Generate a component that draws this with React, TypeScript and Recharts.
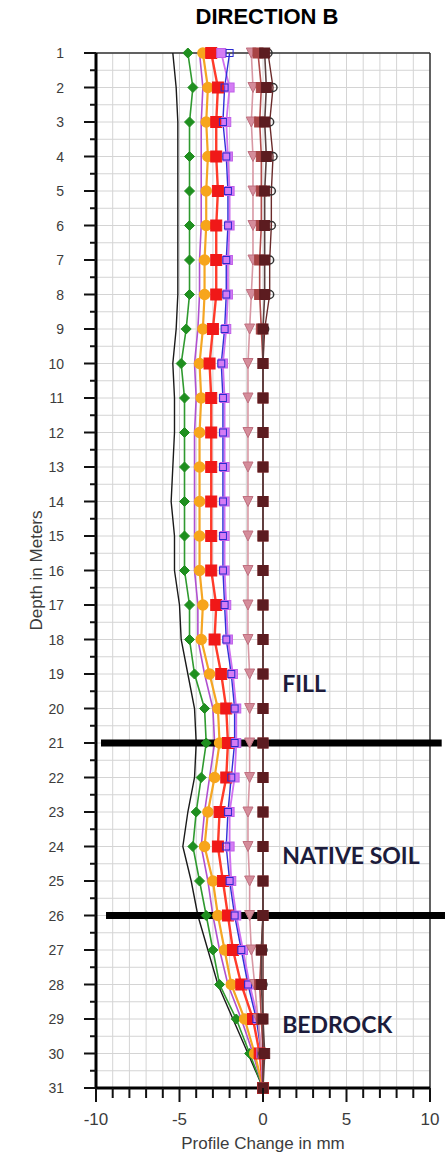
import React from 'react';
import { LineChart, Line, XAxis, YAxis, CartesianGrid, ReferenceLine, ReferenceDot } from 'recharts';

// depth below surface (m), one row per reading
const depths = [1, 2, 3, 4, 5, 6, 7, 8, 9, 10, 11, 12, 13, 14, 15, 16, 17, 18, 19, 20, 21, 22, 23, 24, 25, 26, 27, 28, 29, 30, 31];
const xTicks = [-10, -9, -8, -7, -6, -5, -4, -3, -2, -1, 0, 1, 2, 3, 4, 5, 6, 7, 8, 9, 10];
const xLabels = [-10, -5, 0, 5, 10];
// half-metre ticks for the grid, integers get a label
const yTicks = depths.flatMap((d) => (d < 31 ? [d, d + 0.5] : [d]));

// profile change (mm) per reading
const blackLine = [-5.4, -5.2, -5.1, -5.1, -5.1, -5.1, -5.1, -5.1, -5.2, -5.4, -5.3, -5.3, -5.4, -5.5, -5.3, -5.3, -5.0, -4.9, -4.5, -4.1, -4.0, -4.1, -4.5, -4.8, -4.3, -3.9, -3.3, -2.7, -1.8, -0.9, 0];
const greenDiamond = [-4.5, -4.2, -4.4, -4.4, -4.4, -4.4, -4.4, -4.4, -4.6, -4.9, -4.7, -4.7, -4.7, -4.7, -4.7, -4.7, -4.4, -4.4, -4.1, -3.5, -3.4, -3.7, -4.0, -4.2, -3.8, -3.4, -3.0, -2.6, -1.6, -0.8, 0];
const magentaLine = [-3.8, -3.6, -3.7, -3.7, -3.7, -3.7, -3.8, -3.8, -3.9, -4.1, -4.0, -4.1, -4.1, -4.1, -4.1, -4.1, -3.9, -3.9, -3.5, -3.0, -2.9, -3.2, -3.5, -3.7, -3.3, -3.0, -2.6, -2.1, -1.3, -0.6, 0];
const orangeDot = [-3.6, -3.3, -3.4, -3.3, -3.4, -3.4, -3.5, -3.5, -3.6, -3.8, -3.7, -3.8, -3.8, -3.8, -3.8, -3.8, -3.6, -3.7, -3.2, -2.7, -2.6, -2.9, -3.3, -3.5, -3.0, -2.7, -2.3, -1.9, -1.1, -0.5, 0];
const redSquare = [-3.1, -2.7, -2.8, -2.8, -2.7, -2.8, -2.8, -2.8, -3.0, -3.2, -3.1, -3.1, -3.1, -3.1, -3.1, -3.1, -2.8, -2.9, -2.5, -2.2, -2.1, -2.2, -2.6, -2.7, -2.4, -2.1, -1.8, -1.3, -0.6, -0.2, 0];
const violetSquare = [-2.5, -2.0, -2.2, -2.1, -2.0, -2.0, -2.1, -2.1, -2.2, -2.4, -2.3, -2.3, -2.3, -2.3, -2.3, -2.3, -2.2, -2.1, -1.8, -1.6, -1.6, -1.7, -2.0, -2.0, -1.9, -1.6, -1.2, -0.8, -0.3, -0.1, 0];
const blueSquare = [-2.0, -2.3, -2.4, -2.2, -2.1, -2.1, -2.2, -2.2, -2.3, -2.5, -2.4, -2.4, -2.4, -2.4, -2.4, -2.4, -2.3, -2.2, -1.9, -1.7, -1.7, -1.9, -2.1, -2.2, -2.0, -1.7, -1.3, -0.9, -0.4, -0.1, 0];
const roseTriangle = [-0.7, -0.6, -0.7, -0.6, -0.6, -0.6, -0.6, -0.7, -0.8, -0.9, -0.9, -0.9, -0.9, -0.9, -0.9, -0.9, -0.9, -0.9, -0.8, -0.8, -0.8, -0.8, -0.9, -0.9, -0.8, -0.8, -0.7, -0.5, -0.3, -0.1, 0];
const brownSquare = [-0.3, -0.1, -0.2, -0.1, -0.1, -0.1, -0.2, -0.2, -0.1, 0, 0, 0, 0, 0, 0, 0, 0, 0, 0, 0, 0, 0, 0, 0, 0, 0, -0.1, -0.2, -0.1, 0, 0];
const darkCircle = [0.3, 0.6, 0.4, 0.6, 0.5, 0.5, 0.4, 0.4, 0.1, 0, 0, 0, 0, 0, 0, 0, 0, 0, 0, 0, 0, 0, 0, 0, 0, 0, 0, 0, 0, 0, 0];
const maroonSquare = [0.1, 0.2, 0.1, 0.2, 0.1, 0.1, 0.1, 0.1, 0, 0, 0, 0, 0, 0, 0, 0, 0, 0, 0, 0, 0, 0, 0, 0, 0, 0, -0.1, -0.1, 0, 0.1, 0];

type DotProps = { cx?: number; cy?: number; index?: number };

const marker = (kind: string, fill: string, stroke: string, size: number) => (props: DotProps) => {
  const { cx, cy, index } = props;
  if (cx == null || cy == null) return <g key={index} />;
  const h = size / 2;
  if (kind === 'square')
    return <rect key={index} x={cx - h} y={cy - h} width={size} height={size} fill={fill} stroke={stroke} strokeWidth={1} />;
  if (kind === 'diamond')
    return <polygon key={index} points={`${cx},${cy - h} ${cx + h},${cy} ${cx},${cy + h} ${cx - h},${cy}`} fill={fill} stroke={stroke} />;
  if (kind === 'triangle')
    return <polygon key={index} points={`${cx - h},${cy - h} ${cx + h},${cy - h} ${cx},${cy + h}`} fill={fill} stroke={stroke} />;
  return <circle key={index} cx={cx} cy={cy} r={h} fill={fill} stroke={stroke} strokeWidth={1.5} />;
};

const series = [
  { key: 'black', values: blackLine, color: '#1a1a1a', width: 1.4, dot: null },
  { key: 'green', values: greenDiamond, color: '#2f9a2f', width: 1.6, dot: marker('diamond', '#1f8f1f', '#1f8f1f', 10) },
  { key: 'magenta', values: magentaLine, color: '#b050d0', width: 1.6, dot: null },
  { key: 'orange', values: orangeDot, color: '#f5a623', width: 2.2, dot: marker('circle', '#f7a51c', '#f7a51c', 10) },
  { key: 'red', values: redSquare, color: '#ff3b2a', width: 2.4, dot: marker('square', '#f01818', '#f01818', 11) },
  { key: 'violet', values: violetSquare, color: '#d070f0', width: 1.8, dot: marker('square', '#d47cf4', '#c060e8', 9) },
  { key: 'blue', values: blueSquare, color: '#3030d8', width: 1.4, dot: marker('square', 'none', '#2a2ad0', 7) },
  { key: 'rose', values: roseTriangle, color: '#d898a4', width: 1.6, dot: marker('triangle', '#d48c9a', '#c07080', 10) },
  { key: 'brown', values: brownSquare, color: '#b04a4a', width: 1.6, dot: marker('square', '#a84444', '#a84444', 10) },
  { key: 'circle', values: darkCircle, color: '#6a2a2a', width: 1.4, dot: marker('circle', 'none', '#333333', 8) },
  { key: 'maroon', values: maroonSquare, color: '#5a4040', width: 1.6, dot: marker('square', '#5c1c20', '#5c1c20', 10) },
];

const rows = depths.map((d, i) => {
  const row: Record<string, number> = { depth: d };
  series.forEach((s) => {
    row[s.key] = s.values[i];
  });
  return row;
});

const DepthTick = (props: any) => {
  const { x, y, payload } = props;
  const v = payload.value as number;
  const major = Number.isInteger(v);
  return (
    <g>
      <line x1={major ? x + 20 : x + 26} y1={y} x2={x + 32} y2={y} stroke="#111" strokeWidth={2} />
      {major && (
        <text x={x} y={y} dy={5} textAnchor="end" fontSize={14} fill="#3c3c3c" fontFamily="Liberation Sans, Arial, sans-serif">
          {v}
        </text>
      )}
    </g>
  );
};

const ChangeTick = (props: any) => {
  const { x, y, payload } = props;
  const v = payload.value as number;
  const major = xLabels.includes(v);
  return (
    <g>
      <line x1={x} y1={y - 24} x2={x} y2={major ? y - 10 : y - 14} stroke="#111" strokeWidth={2} />
      {major && (
        <text x={x} y={y} dy={13} textAnchor="middle" fontSize={17} fill="#3c3c3c" fontFamily="Liberation Sans, Arial, sans-serif">
          {v}
        </text>
      )}
    </g>
  );
};

const labelFont = 'Liberation Sans, Arial, sans-serif';

const App = () => {
  return (
    <div style={{ position: 'absolute', left: 0, top: 0, width: 445, height: 1158, background: '#fff' }}>
      <div
        style={{
          position: 'absolute',
          left: 117,
          top: 5,
          width: 300,
          textAlign: 'center',
          fontFamily: labelFont,
          fontWeight: 700,
          fontSize: 22,
          lineHeight: '23px',
          color: '#000',
        }}
      >
        DIRECTION B
      </div>
      <LineChart
        width={445}
        height={1158}
        data={rows}
        layout="vertical"
        margin={{ top: 53, right: 15, bottom: 0, left: 0 }}
      >
        <CartesianGrid stroke="#d4d4d4" strokeWidth={1} />
        <XAxis
          type="number"
          domain={[-10, 10]}
          ticks={xTicks}
          interval={0}
          height={70}
          tickSize={14}
          tickMargin={10}
          tickLine={false}
          axisLine={{ stroke: '#000', strokeWidth: 3 }}
          tick={<ChangeTick />}
          label={{
            value: 'Profile Change in mm',
            position: 'insideBottom',
            offset: 9,
            fontSize: 17,
            fill: '#3c3c3c',
            fontFamily: labelFont,
          }}
        />
        <YAxis
          type="number"
          dataKey="depth"
          domain={[1, 31]}
          ticks={yTicks}
          interval={0}
          width={96}
          tickSize={12}
          tickMargin={20}
          tickLine={false}
          axisLine={{ stroke: '#000', strokeWidth: 3 }}
          tick={<DepthTick />}
          label={{
            value: 'Depth in Meters',
            angle: -90,
            position: 'center',
            dx: -12,
            fontSize: 17,
            fill: '#3c3c3c',
            fontFamily: labelFont,
          }}
        />
        <ReferenceLine y={1} stroke="#333" strokeWidth={1.5} />
        <ReferenceLine x={10} stroke="#333" strokeWidth={1.5} />
        {series.map((s) => (
          <Line
            key={s.key}
            dataKey={s.key}
            stroke={s.color}
            strokeWidth={s.width}
            dot={s.dot ?? false}
            activeDot={false}
            isAnimationActive={false}
          />
        ))}
        <ReferenceLine
          segment={[{ x: -9.7, y: 21 }, { x: 10.7, y: 21 }]}
          stroke="#000"
          strokeWidth={7}
          ifOverflow="visible"
        />
        <ReferenceLine
          segment={[{ x: -9.4, y: 26 }, { x: 11, y: 26 }]}
          stroke="#000"
          strokeWidth={7}
          ifOverflow="visible"
        />
        <ReferenceDot
          x={0.85}
          y={19.28}
          r={0}
          fill="none"
          stroke="none"
          label={{ value: 'FILL', position: 'right', fontSize: 23, fontWeight: 700, fill: '#1c1c3c', fontFamily: 'Lato, sans-serif' }}
        />
        <ReferenceDot
          x={0.85}
          y={24.28}
          r={0}
          fill="none"
          stroke="none"
          label={{ value: 'NATIVE SOIL', position: 'right', fontSize: 23, fontWeight: 700, fill: '#1c1c3c', fontFamily: 'Lato, sans-serif' }}
        />
        <ReferenceDot
          x={0.85}
          y={29.17}
          r={0}
          fill="none"
          stroke="none"
          label={{ value: 'BEDROCK', position: 'right', fontSize: 23, fontWeight: 700, fill: '#1c1c3c', fontFamily: 'Lato, sans-serif' }}
        />
      </LineChart>
    </div>
  );
};

export default App;
